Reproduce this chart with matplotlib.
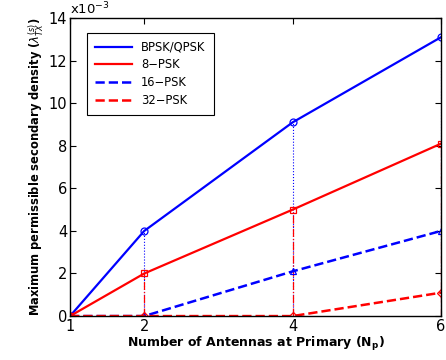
import numpy as np
import matplotlib.pyplot as plt
from matplotlib.ticker import FuncFormatter

antennas = [1, 2, 4, 6]
bpsk_qpsk = [0.0, 4.0e-3, 9.1e-3, 13.1e-3]
psk8 = [0.0, 2.0e-3, 5.0e-3, 8.1e-3]
psk16 = [0.0, 0.0, 2.1e-3, 4.0e-3]
psk32 = [0.0, 0.0, 0.0, 1.1e-3]

fig = plt.figure(figsize=(4.46, 3.6), dpi=100)
ax = fig.add_axes([0.157, 0.122, 0.832, 0.828])

# drop lines from each curve down to the axis
for x, yb, yr in zip(antennas[1:], bpsk_qpsk[1:], psk8[1:]):
    ax.plot([x, x], [0, yb], color="blue", linestyle=":", linewidth=0.8)
    ax.plot([x, x], [0, yr], color="red", linestyle="-.", linewidth=0.9)

mk = dict(markersize=5, markerfacecolor="none", markeredgewidth=0.9)
ax.plot(antennas, bpsk_qpsk, "b-", marker="o", lw=1.6, label="BPSK/QPSK", **mk)
ax.plot(antennas, psk8, "r-", marker="s", lw=1.6, label="8\u2212PSK", **mk)
ax.plot(antennas, psk16, "b--", marker="^", lw=1.8, label="16\u2212PSK", **mk)
ax.plot(antennas, psk32, "r--", marker="D", lw=1.8, label="32\u2212PSK",
        markersize=4, markerfacecolor="none", markeredgewidth=0.9)

ax.set_xlim(1, 6)
ax.set_ylim(0, 14e-3)
ax.set_xticks([1, 2, 4, 6])
ax.set_yticks(np.arange(0, 15e-3, 2e-3))
ax.yaxis.set_major_formatter(FuncFormatter(lambda v, p: f"{v * 1e3:.0f}"))
ax.tick_params(direction="in", top=True, right=True, labelsize=10.5, length=4, pad=2)
for s in ax.spines.values():
    s.set_linewidth(1.0)

ax.text(0.0, 1.002, r"x10$^{-3}$", transform=ax.transAxes, fontsize=9.5,
        ha="left", va="bottom")

ax.set_xlabel(r"Number of Antennas at Primary (N$_{\mathregular{p}}$)",
              fontsize=9, fontweight="bold", labelpad=1)
ax.set_ylabel(r"Maximum permissible secondary density ($\lambda^{(s)}_{TX}$)",
              fontsize=8.3, fontweight="bold", labelpad=2)

leg = ax.legend(loc="upper left", bbox_to_anchor=(0.03, 0.97), fontsize=8.3,
                fancybox=False, framealpha=1, edgecolor="black",
                handlelength=3.2, borderpad=0.7, labelspacing=0.4)
leg.get_frame().set_linewidth(0.8)
for h in leg.legend_handles:
    h.set_marker("")

fig.savefig("out.png", dpi=100)
